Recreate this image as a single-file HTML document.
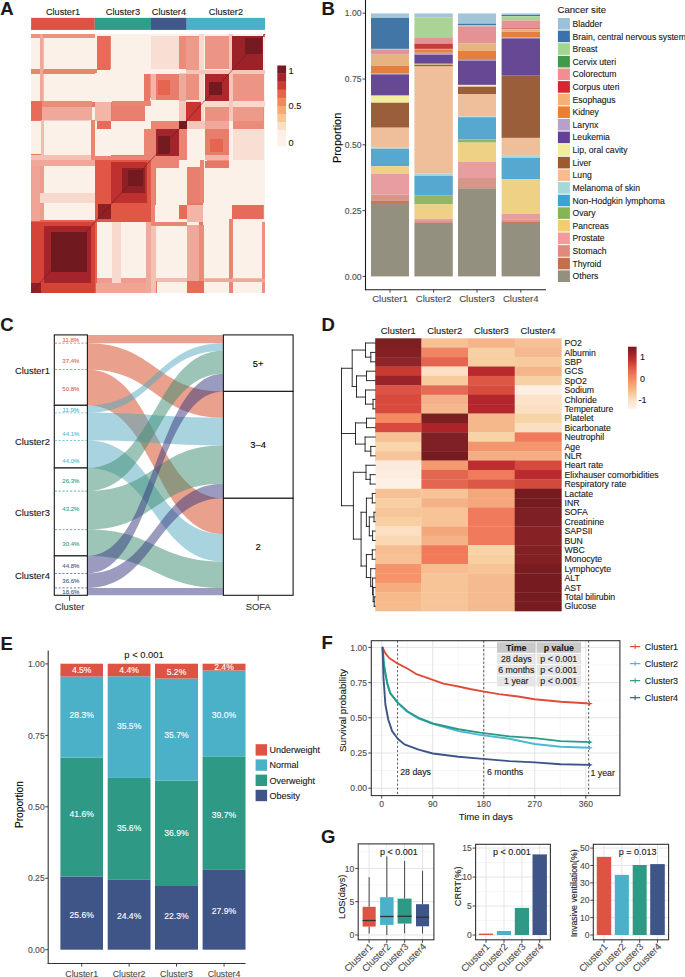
<!DOCTYPE html>
<html><head><meta charset="utf-8"><style>
html,body{margin:0;padding:0;background:#fff;width:685px;height:977px;overflow:hidden}
svg{display:block;font-family:"Liberation Sans", sans-serif}
text{stroke:currentColor;stroke-width:0.12px}
</style></head><body>
<svg width="685" height="977" viewBox="0 0 685 977">
<rect x="0" y="0" width="685" height="977" fill="#fff"/>
<text x="0.30" y="14.60" font-size="18.5" text-anchor="start" fill="#1a1a1a" style="color:#1a1a1a" font-weight="bold" >A</text>

<text x="321.50" y="14.90" font-size="18.5" text-anchor="start" fill="#1a1a1a" style="color:#1a1a1a" font-weight="bold" >B</text>

<text x="0.20" y="331.00" font-size="18.5" text-anchor="start" fill="#1a1a1a" style="color:#1a1a1a" font-weight="bold" >C</text>

<text x="321.50" y="330.60" font-size="18.5" text-anchor="start" fill="#1a1a1a" style="color:#1a1a1a" font-weight="bold" >D</text>

<text x="0.50" y="649.90" font-size="18.5" text-anchor="start" fill="#1a1a1a" style="color:#1a1a1a" font-weight="bold" >E</text>

<text x="321.50" y="648.60" font-size="18.5" text-anchor="start" fill="#1a1a1a" style="color:#1a1a1a" font-weight="bold" >F</text>

<text x="321.00" y="842.50" font-size="18.5" text-anchor="start" fill="#1a1a1a" style="color:#1a1a1a" font-weight="bold" >G</text>

<g shape-rendering="crispEdges"><rect x="31.00" y="34.00" width="234.00" height="258.60" fill="#fcf1e8"/><rect x="31.00" y="34.00" width="61.20" height="2.90" fill="#ec9080"/><rect x="262.38" y="224.97" width="2.62" height="67.63" fill="#ec9080"/><rect x="31.00" y="68.90" width="66.40" height="4.40" fill="#ea8473"/><rect x="229.44" y="219.22" width="3.98" height="73.38" fill="#ea8473"/><rect x="31.00" y="102.20" width="66.40" height="4.40" fill="#e87866"/><rect x="199.31" y="219.22" width="3.98" height="73.38" fill="#e87866"/><rect x="31.00" y="102.20" width="9.50" height="4.40" fill="#db4e40"/><rect x="199.31" y="282.10" width="3.98" height="10.50" fill="#db4e40"/><rect x="31.00" y="106.60" width="9.50" height="14.00" fill="#e87866"/><rect x="186.64" y="282.10" width="12.67" height="10.50" fill="#e87866"/><rect x="44.00" y="106.60" width="45.60" height="14.00" fill="#f6cabe"/><rect x="186.64" y="227.84" width="12.67" height="50.39" fill="#f6cabe"/><rect x="40.50" y="34.00" width="3.50" height="188.00" fill="#f3bcaf"/><rect x="94.88" y="278.23" width="170.12" height="3.87" fill="#f3bcaf"/><rect x="97.40" y="35.60" width="13.20" height="33.30" fill="#ea8473"/><rect x="233.42" y="204.63" width="30.13" height="14.59" fill="#ea8473"/><rect x="95.30" y="102.20" width="15.30" height="18.40" fill="#f2b5a7"/><rect x="186.64" y="204.63" width="16.65" height="16.91" fill="#f2b5a7"/><rect x="110.60" y="102.20" width="34.20" height="18.40" fill="#e87866"/><rect x="186.64" y="166.84" width="16.65" height="37.80" fill="#e87866"/><rect x="122.00" y="104.00" width="22.80" height="15.00" fill="#e66c59"/><rect x="188.09" y="166.84" width="13.57" height="25.20" fill="#e66c59"/><rect x="144.80" y="74.20" width="6.20" height="23.60" fill="#ec9080"/><rect x="207.27" y="159.98" width="21.35" height="6.85" fill="#ec9080"/><rect x="97.40" y="120.60" width="13.20" height="8.80" fill="#e66c59"/><rect x="178.68" y="204.63" width="7.96" height="14.59" fill="#e66c59"/><rect x="144.80" y="129.40" width="6.20" height="30.60" fill="#ee9c8d"/><rect x="150.99" y="159.98" width="27.69" height="6.85" fill="#ee9c8d"/><rect x="31.00" y="153.90" width="10.40" height="6.10" fill="#e87866"/><rect x="150.99" y="281.11" width="5.52" height="11.49" fill="#e87866"/><rect x="110.60" y="155.00" width="40.40" height="5.00" fill="#e87866"/><rect x="150.99" y="159.98" width="4.52" height="44.65" fill="#e87866"/><rect x="151.00" y="35.60" width="28.20" height="33.60" fill="#f9ded3"/><rect x="233.15" y="128.82" width="30.40" height="31.16" fill="#f9ded3"/><rect x="155.80" y="73.50" width="23.20" height="26.70" fill="#e97d6b"/><rect x="205.10" y="129.04" width="24.16" height="25.64" fill="#e97d6b"/><rect x="158.30" y="80.00" width="12.10" height="15.00" fill="#e56551"/><rect x="209.80" y="138.55" width="13.57" height="13.37" fill="#e56551"/><rect x="179.20" y="35.60" width="21.80" height="33.60" fill="#eb8c7b"/><rect x="233.15" y="104.73" width="30.40" height="24.09" fill="#eb8c7b"/><rect x="151.00" y="73.50" width="4.80" height="26.70" fill="#f2b5a7"/><rect x="205.10" y="154.68" width="24.16" height="5.30" fill="#f2b5a7"/><rect x="179.20" y="73.30" width="7.10" height="47.20" fill="#f5c6b9"/><rect x="186.73" y="120.97" width="42.71" height="7.85" fill="#f5c6b9"/><rect x="204.80" y="35.60" width="24.20" height="33.60" fill="#ed9585"/><rect x="233.15" y="73.78" width="30.40" height="26.74" fill="#ed9585"/><rect x="186.30" y="73.50" width="12.80" height="26.70" fill="#ec9080"/><rect x="205.10" y="106.83" width="24.16" height="14.15" fill="#ec9080"/><rect x="232.40" y="101.90" width="30.20" height="18.90" fill="#ee9a8a"/><rect x="186.46" y="36.65" width="17.10" height="33.37" fill="#ee9a8a"/><rect x="204.80" y="120.80" width="24.20" height="8.20" fill="#f0a89a"/><rect x="179.04" y="73.78" width="7.42" height="26.74" fill="#f0a89a"/><rect x="186.80" y="225.40" width="17.20" height="55.20" fill="#f0a89a"/><rect x="41.86" y="101.41" width="49.95" height="19.01" fill="#f0a89a"/><rect x="199.00" y="225.40" width="5.00" height="55.20" fill="#eb8c7b"/><rect x="41.86" y="101.41" width="49.95" height="5.53" fill="#eb8c7b"/><rect x="186.80" y="280.60" width="17.20" height="12.00" fill="#e66c59"/><rect x="31.00" y="101.41" width="10.86" height="19.01" fill="#e66c59"/><rect x="229.00" y="222.00" width="3.40" height="70.60" fill="#ea8473"/><rect x="31.00" y="70.03" width="63.88" height="3.76" fill="#ea8473"/><rect x="261.70" y="222.00" width="3.30" height="70.60" fill="#ec9080"/><rect x="31.00" y="34.00" width="63.88" height="3.65" fill="#ec9080"/><rect x="150.60" y="222.00" width="5.20" height="70.60" fill="#f4c1b4"/><rect x="31.00" y="154.68" width="63.88" height="5.75" fill="#f4c1b4"/><rect x="204.80" y="278.80" width="60.20" height="3.50" fill="#f0a89a"/><rect x="40.32" y="34.00" width="3.17" height="66.53" fill="#f0a89a"/><rect x="151.00" y="160.00" width="4.00" height="62.00" fill="#ea8473"/><rect x="94.88" y="155.56" width="56.10" height="4.42" fill="#ea8473"/><rect x="154.90" y="160.00" width="24.10" height="7.80" fill="#ea8473"/><rect x="143.93" y="129.04" width="7.06" height="26.63" fill="#ea8473"/><rect x="186.80" y="166.90" width="12.90" height="36.10" fill="#e97f6e"/><rect x="112.08" y="106.16" width="32.67" height="14.26" fill="#e97f6e"/><rect x="199.70" y="160.00" width="4.30" height="43.00" fill="#ea8473"/><rect x="112.08" y="101.41" width="38.91" height="4.75" fill="#ea8473"/><rect x="204.80" y="160.90" width="24.20" height="6.90" fill="#e87866"/><rect x="143.93" y="73.78" width="6.24" height="26.74" fill="#e87866"/><rect x="232.40" y="204.80" width="31.00" height="14.60" fill="#e66c59"/><rect x="97.24" y="35.77" width="13.21" height="34.26" fill="#e66c59"/><rect x="148.00" y="222.00" width="38.80" height="4.30" fill="#ea8473"/><rect x="90.99" y="120.42" width="3.89" height="42.88" fill="#ea8473"/><rect x="31.00" y="160.00" width="13.00" height="62.00" fill="#ee9c8d"/><rect x="94.88" y="278.23" width="56.10" height="14.37" fill="#ee9c8d"/><rect x="44.00" y="195.00" width="47.30" height="7.00" fill="#f4c1b4"/><rect x="112.98" y="225.96" width="6.33" height="52.27" fill="#f4c1b4"/><rect x="31.00" y="219.60" width="63.80" height="3.40" fill="#e7634f"/><rect x="93.98" y="222.09" width="3.08" height="70.51" fill="#e7634f"/><rect x="112.00" y="222.00" width="9.00" height="70.60" fill="#f8d9ce"/><rect x="31.00" y="193.14" width="63.88" height="9.95" fill="#f8d9ce"/><rect x="95.70" y="282.60" width="49.90" height="10.00" fill="#efa495"/><rect x="31.00" y="165.95" width="9.05" height="55.15" fill="#efa495"/><rect x="145.60" y="222.00" width="5.40" height="70.60" fill="#f0a89a"/><rect x="31.00" y="159.98" width="63.88" height="5.97" fill="#f0a89a"/><rect x="199.10" y="34.00" width="4.90" height="86.50" fill="#f8d9ce"/><rect x="186.73" y="101.41" width="78.27" height="5.42" fill="#f8d9ce"/><rect x="186.30" y="69.70" width="78.70" height="4.10" fill="#f5c6b9"/><rect x="228.99" y="34.00" width="3.71" height="86.97" fill="#f5c6b9"/><rect x="31.00" y="222.00" width="63.80" height="70.60" fill="#d44238"/><rect x="44.00" y="225.70" width="47.30" height="56.90" fill="#a5242b"/><rect x="51.00" y="231.80" width="35.90" height="40.30" fill="#701a20"/><rect x="31.00" y="282.60" width="10.40" height="10.00" fill="#8e2026"/><rect x="94.80" y="160.00" width="56.20" height="62.00" fill="#e05746"/><rect x="111.00" y="161.80" width="36.00" height="41.20" fill="#be312f"/><rect x="122.40" y="167.70" width="22.80" height="25.40" fill="#8e2026"/><rect x="127.60" y="170.00" width="14.90" height="16.00" fill="#721a20"/><rect x="97.90" y="203.60" width="13.10" height="15.80" fill="#8e2026"/><rect x="151.00" y="120.50" width="35.70" height="39.50" fill="#ea8473"/><rect x="155.70" y="129.20" width="23.60" height="26.80" fill="#a5242b"/><rect x="158.30" y="136.30" width="12.10" height="17.20" fill="#741b21"/><rect x="179.30" y="120.50" width="7.40" height="8.00" fill="#741b21"/><rect x="186.30" y="102.40" width="14.70" height="18.40" fill="#c73631"/><rect x="204.80" y="73.50" width="24.20" height="27.00" fill="#ad282c"/><rect x="209.30" y="81.50" width="12.80" height="13.20" fill="#721a20"/><rect x="232.40" y="35.60" width="30.20" height="34.40" fill="#9c2229"/><rect x="244.50" y="38.20" width="17.20" height="15.40" fill="#741b21"/><rect x="262.60" y="34.00" width="2.40" height="2.50" fill="#e7634f"/></g><line x1="31.0" y1="292.6" x2="265.0" y2="34.0" stroke="#6e1a1f" stroke-width="0.8" stroke-opacity="0.7"/>
<rect x="31.10" y="17.85" width="63.70" height="12.05" fill="#dd5244" />
<rect x="94.80" y="17.85" width="56.20" height="12.05" fill="#2e9d89" />
<rect x="151.00" y="17.85" width="35.70" height="12.05" fill="#3f5789" />
<rect x="186.70" y="17.85" width="78.30" height="12.05" fill="#49b1c7" />
<text x="63.00" y="14.90" font-size="9.2" text-anchor="middle" fill="#1a1a1a" style="color:#1a1a1a" font-weight="normal" >Cluster1</text>
<text x="122.90" y="14.90" font-size="9.2" text-anchor="middle" fill="#1a1a1a" style="color:#1a1a1a" font-weight="normal" >Cluster3</text>
<text x="168.90" y="14.90" font-size="9.2" text-anchor="middle" fill="#1a1a1a" style="color:#1a1a1a" font-weight="normal" >Cluster4</text>
<text x="225.90" y="14.90" font-size="9.2" text-anchor="middle" fill="#1a1a1a" style="color:#1a1a1a" font-weight="normal" >Cluster2</text>
<rect x="277.30" y="65.50" width="8.80" height="8.28" fill="#761b21" />
<rect x="277.30" y="73.58" width="8.80" height="8.28" fill="#a5242b" />
<rect x="277.30" y="81.66" width="8.80" height="8.28" fill="#cf3a32" />
<rect x="277.30" y="89.74" width="8.80" height="8.28" fill="#e7634f" />
<rect x="277.30" y="97.82" width="8.80" height="8.28" fill="#f3865f" />
<rect x="277.30" y="105.90" width="8.80" height="8.28" fill="#f6a878" />
<rect x="277.30" y="113.98" width="8.80" height="8.28" fill="#f5c898" />
<rect x="277.30" y="122.06" width="8.80" height="8.28" fill="#f9dfc3" />
<rect x="277.30" y="130.14" width="8.80" height="8.28" fill="#fdefe5" />
<rect x="277.30" y="138.22" width="8.80" height="8.28" fill="#fdf0e6" />
<text x="288.60" y="74.11" font-size="9.2" text-anchor="start" fill="#1a1a1a" style="color:#1a1a1a" font-weight="normal" >1</text>
<text x="288.60" y="109.31" font-size="9.2" text-anchor="start" fill="#1a1a1a" style="color:#1a1a1a" font-weight="normal" >0.5</text>
<text x="288.60" y="146.21" font-size="9.2" text-anchor="start" fill="#1a1a1a" style="color:#1a1a1a" font-weight="normal" >0</text>
<rect x="371.00" y="13.40" width="38.00" height="4.50" fill="#a2c5da" />
<rect x="371.00" y="17.90" width="38.00" height="31.00" fill="#4176a6" />
<rect x="371.00" y="48.90" width="38.00" height="1.00" fill="#abd396" />
<rect x="371.00" y="49.90" width="38.00" height="4.80" fill="#e39394" />
<rect x="371.00" y="54.70" width="38.00" height="11.00" fill="#e7b47f" />
<rect x="371.00" y="65.70" width="38.00" height="7.90" fill="#e4803f" />
<rect x="371.00" y="73.60" width="38.00" height="0.80" fill="#b2a2cb" />
<rect x="371.00" y="74.40" width="38.00" height="21.20" fill="#664894" />
<rect x="371.00" y="95.60" width="38.00" height="7.10" fill="#f2ee9e" />
<rect x="371.00" y="102.70" width="38.00" height="25.00" fill="#9b5e3b" />
<rect x="371.00" y="127.70" width="38.00" height="19.70" fill="#eebf9a" />
<rect x="371.00" y="147.40" width="38.00" height="1.50" fill="#a8d6d8" />
<rect x="371.00" y="148.90" width="38.00" height="17.40" fill="#56a8d1" />
<rect x="371.00" y="166.30" width="38.00" height="7.30" fill="#eed185" />
<rect x="371.00" y="173.60" width="38.00" height="21.00" fill="#e89ea0" />
<rect x="371.00" y="194.60" width="38.00" height="6.30" fill="#d8958a" />
<rect x="371.00" y="200.90" width="38.00" height="2.10" fill="#c27a55" />
<rect x="371.00" y="203.00" width="38.00" height="73.40" fill="#939080" />
<rect x="414.40" y="13.40" width="38.40" height="4.00" fill="#a2c5da" />
<rect x="414.40" y="17.40" width="38.40" height="19.90" fill="#abd396" />
<rect x="414.40" y="37.30" width="38.40" height="6.30" fill="#e39394" />
<rect x="414.40" y="43.60" width="38.40" height="5.30" fill="#c93a3a" />
<rect x="414.40" y="48.90" width="38.40" height="0.50" fill="#e7b47f" />
<rect x="414.40" y="49.40" width="38.40" height="3.40" fill="#e4803f" />
<rect x="414.40" y="52.80" width="38.40" height="1.90" fill="#b2a2cb" />
<rect x="414.40" y="54.70" width="38.40" height="9.10" fill="#664894" />
<rect x="414.40" y="63.80" width="38.40" height="0.80" fill="#f2ee9e" />
<rect x="414.40" y="64.60" width="38.40" height="1.90" fill="#9b5e3b" />
<rect x="414.40" y="66.50" width="38.40" height="107.10" fill="#eebf9a" />
<rect x="414.40" y="173.60" width="38.40" height="2.40" fill="#a8d6d8" />
<rect x="414.40" y="176.00" width="38.40" height="19.20" fill="#56a8d1" />
<rect x="414.40" y="195.20" width="38.40" height="9.20" fill="#95b466" />
<rect x="414.40" y="204.40" width="38.40" height="14.40" fill="#eed185" />
<rect x="414.40" y="218.80" width="38.40" height="2.20" fill="#e89ea0" />
<rect x="414.40" y="221.00" width="38.40" height="2.00" fill="#d8958a" />
<rect x="414.40" y="223.00" width="38.40" height="53.40" fill="#939080" />
<rect x="458.00" y="13.40" width="38.00" height="10.30" fill="#a2c5da" />
<rect x="458.00" y="23.70" width="38.00" height="1.30" fill="#4176a6" />
<rect x="458.00" y="25.00" width="38.00" height="1.30" fill="#abd396" />
<rect x="458.00" y="26.30" width="38.00" height="17.30" fill="#e39394" />
<rect x="458.00" y="43.60" width="38.00" height="7.10" fill="#e7b47f" />
<rect x="458.00" y="50.70" width="38.00" height="9.20" fill="#e4803f" />
<rect x="458.00" y="59.90" width="38.00" height="0.80" fill="#b2a2cb" />
<rect x="458.00" y="60.70" width="38.00" height="24.20" fill="#664894" />
<rect x="458.00" y="84.90" width="38.00" height="1.80" fill="#f2ee9e" />
<rect x="458.00" y="86.70" width="38.00" height="7.30" fill="#9b5e3b" />
<rect x="458.00" y="94.00" width="38.00" height="22.40" fill="#eebf9a" />
<rect x="458.00" y="116.40" width="38.00" height="0.80" fill="#a8d6d8" />
<rect x="458.00" y="117.20" width="38.00" height="22.30" fill="#56a8d1" />
<rect x="458.00" y="139.50" width="38.00" height="3.10" fill="#95b466" />
<rect x="458.00" y="142.60" width="38.00" height="19.40" fill="#eed185" />
<rect x="458.00" y="162.00" width="38.00" height="16.00" fill="#e89ea0" />
<rect x="458.00" y="178.00" width="38.00" height="9.30" fill="#d8958a" />
<rect x="458.00" y="187.30" width="38.00" height="1.30" fill="#c27a55" />
<rect x="458.00" y="188.60" width="38.00" height="87.80" fill="#939080" />
<rect x="501.60" y="13.40" width="38.40" height="1.60" fill="#a2c5da" />
<rect x="501.60" y="15.00" width="38.40" height="1.30" fill="#4176a6" />
<rect x="501.60" y="16.30" width="38.40" height="4.20" fill="#abd396" />
<rect x="501.60" y="20.50" width="38.40" height="7.90" fill="#e39394" />
<rect x="501.60" y="28.40" width="38.40" height="0.80" fill="#c93a3a" />
<rect x="501.60" y="29.20" width="38.40" height="2.60" fill="#e7b47f" />
<rect x="501.60" y="31.80" width="38.40" height="5.50" fill="#e4803f" />
<rect x="501.60" y="37.30" width="38.40" height="1.10" fill="#b2a2cb" />
<rect x="501.60" y="38.40" width="38.40" height="37.30" fill="#664894" />
<rect x="501.60" y="75.70" width="38.40" height="62.20" fill="#9b5e3b" />
<rect x="501.60" y="137.90" width="38.40" height="17.30" fill="#eebf9a" />
<rect x="501.60" y="155.20" width="38.40" height="2.70" fill="#a8d6d8" />
<rect x="501.60" y="157.90" width="38.40" height="21.50" fill="#56a8d1" />
<rect x="501.60" y="179.40" width="38.40" height="34.60" fill="#eed185" />
<rect x="501.60" y="214.00" width="38.40" height="5.30" fill="#e89ea0" />
<rect x="501.60" y="219.30" width="38.40" height="2.10" fill="#d8958a" />
<rect x="501.60" y="221.40" width="38.40" height="1.60" fill="#c27a55" />
<rect x="501.60" y="223.00" width="38.40" height="53.40" fill="#939080" />
<line x1="365.50" y1="0.00" x2="365.50" y2="290.20" stroke="#1a1a1a" stroke-width="1.1" />
<line x1="365.00" y1="289.70" x2="546.00" y2="289.70" stroke="#1a1a1a" stroke-width="1.1" />
<line x1="362.50" y1="13.20" x2="365.50" y2="13.20" stroke="#333" stroke-width="0.9" />
<text x="361.50" y="16.30" font-size="8.6" text-anchor="end" fill="#4d4d4d" style="color:#4d4d4d" font-weight="normal" >1.00</text>
<line x1="362.50" y1="79.00" x2="365.50" y2="79.00" stroke="#333" stroke-width="0.9" />
<text x="361.50" y="82.10" font-size="8.6" text-anchor="end" fill="#4d4d4d" style="color:#4d4d4d" font-weight="normal" >0.75</text>
<line x1="362.50" y1="144.80" x2="365.50" y2="144.80" stroke="#333" stroke-width="0.9" />
<text x="361.50" y="147.90" font-size="8.6" text-anchor="end" fill="#4d4d4d" style="color:#4d4d4d" font-weight="normal" >0.50</text>
<line x1="362.50" y1="210.60" x2="365.50" y2="210.60" stroke="#333" stroke-width="0.9" />
<text x="361.50" y="213.70" font-size="8.6" text-anchor="end" fill="#4d4d4d" style="color:#4d4d4d" font-weight="normal" >0.25</text>
<line x1="362.50" y1="276.40" x2="365.50" y2="276.40" stroke="#333" stroke-width="0.9" />
<text x="361.50" y="279.50" font-size="8.6" text-anchor="end" fill="#4d4d4d" style="color:#4d4d4d" font-weight="normal" >0.00</text>
<line x1="390.00" y1="289.70" x2="390.00" y2="292.70" stroke="#333" stroke-width="0.9" />
<text x="390.00" y="301.66" font-size="9.6" text-anchor="middle" fill="#4d4d4d" style="color:#4d4d4d" font-weight="normal" >Cluster1</text>
<line x1="433.60" y1="289.70" x2="433.60" y2="292.70" stroke="#333" stroke-width="0.9" />
<text x="433.60" y="301.66" font-size="9.6" text-anchor="middle" fill="#4d4d4d" style="color:#4d4d4d" font-weight="normal" >Cluster2</text>
<line x1="477.00" y1="289.70" x2="477.00" y2="292.70" stroke="#333" stroke-width="0.9" />
<text x="477.00" y="301.66" font-size="9.6" text-anchor="middle" fill="#4d4d4d" style="color:#4d4d4d" font-weight="normal" >Cluster3</text>
<line x1="520.80" y1="289.70" x2="520.80" y2="292.70" stroke="#333" stroke-width="0.9" />
<text x="520.80" y="301.66" font-size="9.6" text-anchor="middle" fill="#4d4d4d" style="color:#4d4d4d" font-weight="normal" >Cluster4</text>
<text x="336.80" y="141.82" font-size="10.9" text-anchor="middle" fill="#000" style="color:#000" font-weight="normal" transform="rotate(-90 336.8 137.9)">Proportion</text>
<text x="557.50" y="12.66" font-size="9.6" text-anchor="start" fill="#1a1a1a" style="color:#1a1a1a" font-weight="normal" >Cancer site</text>
<rect x="557.90" y="18.00" width="12.00" height="11.60" fill="#9ac3d9" />
<text x="572.60" y="26.90" font-size="8.6" text-anchor="start" fill="#1a1a1a" style="color:#1a1a1a" font-weight="normal" >Bladder</text>
<rect x="557.90" y="30.62" width="12.00" height="11.60" fill="#3a73ab" />
<text x="572.60" y="39.52" font-size="8.6" text-anchor="start" fill="#1a1a1a" style="color:#1a1a1a" font-weight="normal" >Brain, central nervous system</text>
<rect x="557.90" y="43.24" width="12.00" height="11.60" fill="#a3d590" />
<text x="572.60" y="52.14" font-size="8.6" text-anchor="start" fill="#1a1a1a" style="color:#1a1a1a" font-weight="normal" >Breast</text>
<rect x="557.90" y="55.86" width="12.00" height="11.60" fill="#43994a" />
<text x="572.60" y="64.76" font-size="8.6" text-anchor="start" fill="#1a1a1a" style="color:#1a1a1a" font-weight="normal" >Cervix uteri</text>
<rect x="557.90" y="68.48" width="12.00" height="11.60" fill="#f28e93" />
<text x="572.60" y="77.38" font-size="8.6" text-anchor="start" fill="#1a1a1a" style="color:#1a1a1a" font-weight="normal" >Colorectum</text>
<rect x="557.90" y="81.10" width="12.00" height="11.60" fill="#d6282c" />
<text x="572.60" y="90.00" font-size="8.6" text-anchor="start" fill="#1a1a1a" style="color:#1a1a1a" font-weight="normal" >Corpus uteri</text>
<rect x="557.90" y="93.72" width="12.00" height="11.60" fill="#f4b173" />
<text x="572.60" y="102.62" font-size="8.6" text-anchor="start" fill="#1a1a1a" style="color:#1a1a1a" font-weight="normal" >Esophagus</text>
<rect x="557.90" y="106.34" width="12.00" height="11.60" fill="#f07d2e" />
<text x="572.60" y="115.24" font-size="8.6" text-anchor="start" fill="#1a1a1a" style="color:#1a1a1a" font-weight="normal" >Kidney</text>
<rect x="557.90" y="118.96" width="12.00" height="11.60" fill="#b8a0cc" />
<text x="572.60" y="127.86" font-size="8.6" text-anchor="start" fill="#1a1a1a" style="color:#1a1a1a" font-weight="normal" >Larynx</text>
<rect x="557.90" y="131.58" width="12.00" height="11.60" fill="#643f98" />
<text x="572.60" y="140.48" font-size="8.6" text-anchor="start" fill="#1a1a1a" style="color:#1a1a1a" font-weight="normal" >Leukemia</text>
<rect x="557.90" y="144.20" width="12.00" height="11.60" fill="#f0ec9c" />
<text x="572.60" y="153.10" font-size="8.6" text-anchor="start" fill="#1a1a1a" style="color:#1a1a1a" font-weight="normal" >Lip, oral cavity</text>
<rect x="557.90" y="156.82" width="12.00" height="11.60" fill="#a0582f" />
<text x="572.60" y="165.72" font-size="8.6" text-anchor="start" fill="#1a1a1a" style="color:#1a1a1a" font-weight="normal" >Liver</text>
<rect x="557.90" y="169.44" width="12.00" height="11.60" fill="#f9bb8d" />
<text x="572.60" y="178.34" font-size="8.6" text-anchor="start" fill="#1a1a1a" style="color:#1a1a1a" font-weight="normal" >Lung</text>
<rect x="557.90" y="182.06" width="12.00" height="11.60" fill="#a5d8d9" />
<text x="572.60" y="190.96" font-size="8.6" text-anchor="start" fill="#1a1a1a" style="color:#1a1a1a" font-weight="normal" >Melanoma of skin</text>
<rect x="557.90" y="194.68" width="12.00" height="11.60" fill="#36a5d6" />
<text x="572.60" y="203.58" font-size="8.6" text-anchor="start" fill="#1a1a1a" style="color:#1a1a1a" font-weight="normal" >Non-Hodgkin lymphoma</text>
<rect x="557.90" y="207.30" width="12.00" height="11.60" fill="#86b556" />
<text x="572.60" y="216.20" font-size="8.6" text-anchor="start" fill="#1a1a1a" style="color:#1a1a1a" font-weight="normal" >Ovary</text>
<rect x="557.90" y="219.92" width="12.00" height="11.60" fill="#f2cd70" />
<text x="572.60" y="228.82" font-size="8.6" text-anchor="start" fill="#1a1a1a" style="color:#1a1a1a" font-weight="normal" >Pancreas</text>
<rect x="557.90" y="232.54" width="12.00" height="11.60" fill="#f4999c" />
<text x="572.60" y="241.44" font-size="8.6" text-anchor="start" fill="#1a1a1a" style="color:#1a1a1a" font-weight="normal" >Prostate</text>
<rect x="557.90" y="245.16" width="12.00" height="11.60" fill="#df8a7c" />
<text x="572.60" y="254.06" font-size="8.6" text-anchor="start" fill="#1a1a1a" style="color:#1a1a1a" font-weight="normal" >Stomach</text>
<rect x="557.90" y="257.78" width="12.00" height="11.60" fill="#c37049" />
<text x="572.60" y="266.68" font-size="8.6" text-anchor="start" fill="#1a1a1a" style="color:#1a1a1a" font-weight="normal" >Thyroid</text>
<rect x="557.90" y="270.40" width="12.00" height="11.60" fill="#93917e" />
<text x="572.60" y="279.30" font-size="8.6" text-anchor="start" fill="#1a1a1a" style="color:#1a1a1a" font-weight="normal" >Others</text>
<path d="M87.4,334.90 C155.40,334.90 155.40,334.90 223.4,334.90 L223.4,343.20 C155.40,343.20 155.40,343.20 87.4,343.20 Z" fill="#d34119" fill-opacity="0.5"/>
<path d="M87.4,343.20 C155.40,343.20 155.40,391.40 223.4,391.40 L223.4,417.70 C155.40,417.70 155.40,369.50 87.4,369.50 Z" fill="#d34119" fill-opacity="0.5"/>
<path d="M87.4,369.50 C155.40,369.50 155.40,498.30 223.4,498.30 L223.4,534.10 C155.40,534.10 155.40,405.30 87.4,405.30 Z" fill="#d34119" fill-opacity="0.5"/>
<path d="M87.4,405.30 C155.40,405.30 155.40,343.20 223.4,343.20 L223.4,350.75 C155.40,350.75 155.40,412.85 87.4,412.85 Z" fill="#51a7bf" fill-opacity="0.5"/>
<path d="M87.4,412.85 C155.40,412.85 155.40,417.70 223.4,417.70 L223.4,445.35 C155.40,445.35 155.40,440.50 87.4,440.50 Z" fill="#51a7bf" fill-opacity="0.5"/>
<path d="M87.4,440.50 C155.40,440.50 155.40,534.10 223.4,534.10 L223.4,561.60 C155.40,561.60 155.40,468.00 87.4,468.00 Z" fill="#51a7bf" fill-opacity="0.5"/>
<path d="M87.4,468.00 C155.40,468.00 155.40,350.75 223.4,350.75 L223.4,373.85 C155.40,373.85 155.40,491.10 87.4,491.10 Z" fill="#398b6f" fill-opacity="0.5"/>
<path d="M87.4,491.10 C155.40,491.10 155.40,445.35 223.4,445.35 L223.4,483.85 C155.40,483.85 155.40,529.60 87.4,529.60 Z" fill="#398b6f" fill-opacity="0.5"/>
<path d="M87.4,529.60 C155.40,529.60 155.40,561.60 223.4,561.60 L223.4,587.90 C155.40,587.90 155.40,555.90 87.4,555.90 Z" fill="#398b6f" fill-opacity="0.5"/>
<path d="M87.4,555.90 C155.40,555.90 155.40,373.85 223.4,373.85 L223.4,391.40 C155.40,391.40 155.40,573.45 87.4,573.45 Z" fill="#35377d" fill-opacity="0.5"/>
<path d="M87.4,573.45 C155.40,573.45 155.40,483.85 223.4,483.85 L223.4,498.30 C155.40,498.30 155.40,587.90 87.4,587.90 Z" fill="#35377d" fill-opacity="0.5"/>
<path d="M87.4,587.90 C155.40,587.90 155.40,587.90 223.4,587.90 L223.4,595.30 C155.40,595.30 155.40,595.30 87.4,595.30 Z" fill="#35377d" fill-opacity="0.5"/>
<rect x="54.30" y="334.90" width="33.10" height="70.40" fill="#fff" stroke="#1a1a1a" stroke-width="1.1"/>
<line x1="54.80" y1="343.20" x2="87.00" y2="343.20" stroke="#e06c5c" stroke-width="0.8" stroke-dasharray="2.2,1.6"/>
<line x1="54.80" y1="369.50" x2="87.00" y2="369.50" stroke="#e06c5c" stroke-width="0.8" stroke-dasharray="2.2,1.6"/>
<rect x="54.30" y="405.30" width="33.10" height="62.70" fill="#fff" stroke="#1a1a1a" stroke-width="1.1"/>
<line x1="54.80" y1="412.85" x2="87.00" y2="412.85" stroke="#5bbcd3" stroke-width="0.8" stroke-dasharray="2.2,1.6"/>
<line x1="54.80" y1="440.50" x2="87.00" y2="440.50" stroke="#5bbcd3" stroke-width="0.8" stroke-dasharray="2.2,1.6"/>
<rect x="54.30" y="468.00" width="33.10" height="87.90" fill="#fff" stroke="#1a1a1a" stroke-width="1.1"/>
<line x1="54.80" y1="491.10" x2="87.00" y2="491.10" stroke="#3fa48f" stroke-width="0.8" stroke-dasharray="2.2,1.6"/>
<line x1="54.80" y1="529.60" x2="87.00" y2="529.60" stroke="#3fa48f" stroke-width="0.8" stroke-dasharray="2.2,1.6"/>
<rect x="54.30" y="555.90" width="33.10" height="39.40" fill="#fff" stroke="#1a1a1a" stroke-width="1.1"/>
<line x1="54.80" y1="573.45" x2="87.00" y2="573.45" stroke="#4d5f91" stroke-width="0.8" stroke-dasharray="2.2,1.6"/>
<line x1="54.80" y1="587.90" x2="87.00" y2="587.90" stroke="#4d5f91" stroke-width="0.8" stroke-dasharray="2.2,1.6"/>
<text x="70.85" y="342.06" font-size="6.0" text-anchor="middle" fill="#e06c5c" style="color:#e06c5c" font-weight="normal" >11.8%</text>
<text x="70.85" y="362.96" font-size="6.0" text-anchor="middle" fill="#e06c5c" style="color:#e06c5c" font-weight="normal" >37.4%</text>
<text x="70.85" y="391.36" font-size="6.0" text-anchor="middle" fill="#e06c5c" style="color:#e06c5c" font-weight="normal" >50.8%</text>
<text x="70.85" y="412.36" font-size="6.0" text-anchor="middle" fill="#5bbcd3" style="color:#5bbcd3" font-weight="normal" >11.9%</text>
<text x="70.85" y="436.06" font-size="6.0" text-anchor="middle" fill="#5bbcd3" style="color:#5bbcd3" font-weight="normal" >44.1%</text>
<text x="70.85" y="463.46" font-size="6.0" text-anchor="middle" fill="#5bbcd3" style="color:#5bbcd3" font-weight="normal" >44.0%</text>
<text x="70.85" y="483.16" font-size="6.0" text-anchor="middle" fill="#3fa48f" style="color:#3fa48f" font-weight="normal" >26.3%</text>
<text x="70.85" y="511.16" font-size="6.0" text-anchor="middle" fill="#3fa48f" style="color:#3fa48f" font-weight="normal" >43.2%</text>
<text x="70.85" y="545.96" font-size="6.0" text-anchor="middle" fill="#3fa48f" style="color:#3fa48f" font-weight="normal" >30.4%</text>
<text x="70.85" y="567.86" font-size="6.0" text-anchor="middle" fill="#4d5f91" style="color:#4d5f91" font-weight="normal" >44.8%</text>
<text x="70.85" y="582.86" font-size="6.0" text-anchor="middle" fill="#4d5f91" style="color:#4d5f91" font-weight="normal" >36.6%</text>
<text x="70.85" y="593.86" font-size="6.0" text-anchor="middle" fill="#4d5f91" style="color:#4d5f91" font-weight="normal" >18.6%</text>
<text x="49.90" y="373.98" font-size="9.4" text-anchor="end" fill="#1a1a1a" style="color:#1a1a1a" font-weight="normal" >Cluster1</text>
<text x="49.90" y="445.38" font-size="9.4" text-anchor="end" fill="#1a1a1a" style="color:#1a1a1a" font-weight="normal" >Cluster2</text>
<text x="49.90" y="516.38" font-size="9.4" text-anchor="end" fill="#1a1a1a" style="color:#1a1a1a" font-weight="normal" >Cluster3</text>
<text x="49.90" y="578.68" font-size="9.4" text-anchor="end" fill="#1a1a1a" style="color:#1a1a1a" font-weight="normal" >Cluster4</text>
<rect x="223.40" y="334.90" width="69.70" height="56.50" fill="#fff" stroke="#1a1a1a" stroke-width="1.1"/>
<rect x="223.40" y="391.40" width="69.70" height="106.90" fill="#fff" stroke="#1a1a1a" stroke-width="1.1"/>
<rect x="223.40" y="498.30" width="69.70" height="97.00" fill="#fff" stroke="#1a1a1a" stroke-width="1.1"/>
<text x="258.20" y="367.18" font-size="9.4" text-anchor="middle" fill="#000" style="color:#000" font-weight="normal" >5+</text>
<text x="258.20" y="448.23" font-size="9.4" text-anchor="middle" fill="#000" style="color:#000" font-weight="normal" >3&#8211;4</text>
<text x="258.20" y="550.18" font-size="9.4" text-anchor="middle" fill="#000" style="color:#000" font-weight="normal" >2</text>
<line x1="69.60" y1="595.30" x2="69.60" y2="600.70" stroke="#333" stroke-width="0.9" />
<line x1="258.20" y1="595.30" x2="258.20" y2="600.70" stroke="#333" stroke-width="0.9" />
<text x="69.60" y="610.38" font-size="9.4" text-anchor="middle" fill="#333" style="color:#333" font-weight="normal" >Cluster</text>
<text x="258.20" y="610.38" font-size="9.4" text-anchor="middle" fill="#333" style="color:#333" font-weight="normal" >SOFA</text>
<rect x="375.20" y="338.30" width="46.50" height="9.70" fill="#7a1f22" />
<rect x="421.40" y="338.30" width="46.90" height="9.70" fill="#f7c095" />
<rect x="468.00" y="338.30" width="47.00" height="9.70" fill="#f5b48a" />
<rect x="514.70" y="338.30" width="47.00" height="9.70" fill="#f7c098" />
<text x="564.50" y="346.13" font-size="8.7" text-anchor="start" fill="#1a1a1a" style="color:#1a1a1a" font-weight="normal" >PO2</text>
<rect x="375.20" y="347.70" width="46.50" height="9.70" fill="#842024" />
<rect x="421.40" y="347.70" width="46.90" height="9.70" fill="#f18462" />
<rect x="468.00" y="347.70" width="47.00" height="9.70" fill="#f8d0a5" />
<rect x="514.70" y="347.70" width="47.00" height="9.70" fill="#f5b88f" />
<text x="564.50" y="355.54" font-size="8.7" text-anchor="start" fill="#1a1a1a" style="color:#1a1a1a" font-weight="normal" >Albumin</text>
<rect x="375.20" y="357.11" width="46.50" height="9.70" fill="#8c2428" />
<rect x="421.40" y="357.11" width="46.90" height="9.70" fill="#e46450" />
<rect x="468.00" y="357.11" width="47.00" height="9.70" fill="#f7cea0" />
<rect x="514.70" y="357.11" width="47.00" height="9.70" fill="#f7cb9d" />
<text x="564.50" y="364.94" font-size="8.7" text-anchor="start" fill="#1a1a1a" style="color:#1a1a1a" font-weight="normal" >SBP</text>
<rect x="375.20" y="366.51" width="46.50" height="9.70" fill="#c93a30" />
<rect x="421.40" y="366.51" width="46.90" height="9.70" fill="#fbe0c5" />
<rect x="468.00" y="366.51" width="47.00" height="9.70" fill="#b8292d" />
<rect x="514.70" y="366.51" width="47.00" height="9.70" fill="#f5b58b" />
<text x="564.50" y="374.34" font-size="8.7" text-anchor="start" fill="#1a1a1a" style="color:#1a1a1a" font-weight="normal" >GCS</text>
<rect x="375.20" y="375.91" width="46.50" height="9.70" fill="#9a2329" />
<rect x="421.40" y="375.91" width="46.90" height="9.70" fill="#f7cb9c" />
<rect x="468.00" y="375.91" width="47.00" height="9.70" fill="#dd5646" />
<rect x="514.70" y="375.91" width="47.00" height="9.70" fill="#f7d0a5" />
<text x="564.50" y="383.75" font-size="8.7" text-anchor="start" fill="#1a1a1a" style="color:#1a1a1a" font-weight="normal" >SpO2</text>
<rect x="375.20" y="385.32" width="46.50" height="9.70" fill="#dd5345" />
<rect x="421.40" y="385.32" width="46.90" height="9.70" fill="#e36a55" />
<rect x="468.00" y="385.32" width="47.00" height="9.70" fill="#d84c3e" />
<rect x="514.70" y="385.32" width="47.00" height="9.70" fill="#fdefe2" />
<text x="564.50" y="393.15" font-size="8.7" text-anchor="start" fill="#1a1a1a" style="color:#1a1a1a" font-weight="normal" >Sodium</text>
<rect x="375.20" y="394.72" width="46.50" height="9.70" fill="#d84a3e" />
<rect x="421.40" y="394.72" width="46.90" height="9.70" fill="#f5b288" />
<rect x="468.00" y="394.72" width="47.00" height="9.70" fill="#b3262d" />
<rect x="514.70" y="394.72" width="47.00" height="9.70" fill="#fbe2c8" />
<text x="564.50" y="402.55" font-size="8.7" text-anchor="start" fill="#1a1a1a" style="color:#1a1a1a" font-weight="normal" >Chloride</text>
<rect x="375.20" y="404.12" width="46.50" height="9.70" fill="#d84a3e" />
<rect x="421.40" y="404.12" width="46.90" height="9.70" fill="#f5b88c" />
<rect x="468.00" y="404.12" width="47.00" height="9.70" fill="#b3262d" />
<rect x="514.70" y="404.12" width="47.00" height="9.70" fill="#fadfc3" />
<text x="564.50" y="411.96" font-size="8.7" text-anchor="start" fill="#1a1a1a" style="color:#1a1a1a" font-weight="normal" >Temperature</text>
<rect x="375.20" y="413.53" width="46.50" height="9.70" fill="#f48a60" />
<rect x="421.40" y="413.53" width="46.90" height="9.70" fill="#7a1f22" />
<rect x="468.00" y="413.53" width="47.00" height="9.70" fill="#f5b88a" />
<rect x="514.70" y="413.53" width="47.00" height="9.70" fill="#f8d3a8" />
<text x="564.50" y="421.36" font-size="8.7" text-anchor="start" fill="#1a1a1a" style="color:#1a1a1a" font-weight="normal" >Platelet</text>
<rect x="375.20" y="422.93" width="46.50" height="9.70" fill="#d84a3e" />
<rect x="421.40" y="422.93" width="46.90" height="9.70" fill="#ad2329" />
<rect x="468.00" y="422.93" width="47.00" height="9.70" fill="#f5b88a" />
<rect x="514.70" y="422.93" width="47.00" height="9.70" fill="#fbdfc2" />
<text x="564.50" y="430.76" font-size="8.7" text-anchor="start" fill="#1a1a1a" style="color:#1a1a1a" font-weight="normal" >Bicarbonate</text>
<rect x="375.20" y="432.33" width="46.50" height="9.70" fill="#f7c095" />
<rect x="421.40" y="432.33" width="46.90" height="9.70" fill="#7e2024" />
<rect x="468.00" y="432.33" width="47.00" height="9.70" fill="#f8d3a5" />
<rect x="514.70" y="432.33" width="47.00" height="9.70" fill="#f07a5c" />
<text x="564.50" y="440.17" font-size="8.7" text-anchor="start" fill="#1a1a1a" style="color:#1a1a1a" font-weight="normal" >Neutrophil</text>
<rect x="375.20" y="441.74" width="46.50" height="9.70" fill="#f9d5ab" />
<rect x="421.40" y="441.74" width="46.90" height="9.70" fill="#7e2024" />
<rect x="468.00" y="441.74" width="47.00" height="9.70" fill="#f39670" />
<rect x="514.70" y="441.74" width="47.00" height="9.70" fill="#f39670" />
<text x="564.50" y="449.57" font-size="8.7" text-anchor="start" fill="#1a1a1a" style="color:#1a1a1a" font-weight="normal" >Age</text>
<rect x="375.20" y="451.14" width="46.50" height="9.70" fill="#f7c59a" />
<rect x="421.40" y="451.14" width="46.90" height="9.70" fill="#761c20" />
<rect x="468.00" y="451.14" width="47.00" height="9.70" fill="#f5ad84" />
<rect x="514.70" y="451.14" width="47.00" height="9.70" fill="#f5ad84" />
<text x="564.50" y="458.98" font-size="8.7" text-anchor="start" fill="#1a1a1a" style="color:#1a1a1a" font-weight="normal" >NLR</text>
<rect x="375.20" y="460.54" width="46.50" height="9.70" fill="#fcebdc" />
<rect x="421.40" y="460.54" width="46.90" height="9.70" fill="#f49a6e" />
<rect x="468.00" y="460.54" width="47.00" height="9.70" fill="#bd2c2f" />
<rect x="514.70" y="460.54" width="47.00" height="9.70" fill="#d54b3d" />
<text x="564.50" y="468.38" font-size="8.7" text-anchor="start" fill="#1a1a1a" style="color:#1a1a1a" font-weight="normal" >Heart rate</text>
<rect x="375.20" y="469.95" width="46.50" height="9.70" fill="#fcede0" />
<rect x="421.40" y="469.95" width="46.90" height="9.70" fill="#e36650" />
<rect x="468.00" y="469.95" width="47.00" height="9.70" fill="#ef7a5c" />
<rect x="514.70" y="469.95" width="47.00" height="9.70" fill="#bb2a2e" />
<text x="564.50" y="477.78" font-size="8.7" text-anchor="start" fill="#1a1a1a" style="color:#1a1a1a" font-weight="normal" >Elixhauser comorbidities</text>
<rect x="375.20" y="479.35" width="46.50" height="9.70" fill="#fdf0e4" />
<rect x="421.40" y="479.35" width="46.90" height="9.70" fill="#e36650" />
<rect x="468.00" y="479.35" width="47.00" height="9.70" fill="#dc5846" />
<rect x="514.70" y="479.35" width="47.00" height="9.70" fill="#d24a3e" />
<text x="564.50" y="487.19" font-size="8.7" text-anchor="start" fill="#1a1a1a" style="color:#1a1a1a" font-weight="normal" >Respiratory rate</text>
<rect x="375.20" y="488.76" width="46.50" height="9.70" fill="#f7c095" />
<rect x="421.40" y="488.76" width="46.90" height="9.70" fill="#f7c397" />
<rect x="468.00" y="488.76" width="47.00" height="9.70" fill="#f5a77c" />
<rect x="514.70" y="488.76" width="47.00" height="9.70" fill="#761c20" />
<text x="564.50" y="496.59" font-size="8.7" text-anchor="start" fill="#1a1a1a" style="color:#1a1a1a" font-weight="normal" >Lactate</text>
<rect x="375.20" y="498.16" width="46.50" height="9.70" fill="#f8cfa2" />
<rect x="421.40" y="498.16" width="46.90" height="9.70" fill="#f5b287" />
<rect x="468.00" y="498.16" width="47.00" height="9.70" fill="#f5a77c" />
<rect x="514.70" y="498.16" width="47.00" height="9.70" fill="#761c20" />
<text x="564.50" y="505.99" font-size="8.7" text-anchor="start" fill="#1a1a1a" style="color:#1a1a1a" font-weight="normal" >INR</text>
<rect x="375.20" y="507.56" width="46.50" height="9.70" fill="#f7c59a" />
<rect x="421.40" y="507.56" width="46.90" height="9.70" fill="#f7c397" />
<rect x="468.00" y="507.56" width="47.00" height="9.70" fill="#ef7a5c" />
<rect x="514.70" y="507.56" width="47.00" height="9.70" fill="#7e1f23" />
<text x="564.50" y="515.40" font-size="8.7" text-anchor="start" fill="#1a1a1a" style="color:#1a1a1a" font-weight="normal" >SOFA</text>
<rect x="375.20" y="516.97" width="46.50" height="9.70" fill="#f8cfa2" />
<rect x="421.40" y="516.97" width="46.90" height="9.70" fill="#f7c397" />
<rect x="468.00" y="516.97" width="47.00" height="9.70" fill="#ef7a5c" />
<rect x="514.70" y="516.97" width="47.00" height="9.70" fill="#7e1f23" />
<text x="564.50" y="524.80" font-size="8.7" text-anchor="start" fill="#1a1a1a" style="color:#1a1a1a" font-weight="normal" >Creatinine</text>
<rect x="375.20" y="526.37" width="46.50" height="9.70" fill="#fbe0c5" />
<rect x="421.40" y="526.37" width="46.90" height="9.70" fill="#f5a77c" />
<rect x="468.00" y="526.37" width="47.00" height="9.70" fill="#ef7a5c" />
<rect x="514.70" y="526.37" width="47.00" height="9.70" fill="#862226" />
<text x="564.50" y="534.20" font-size="8.7" text-anchor="start" fill="#1a1a1a" style="color:#1a1a1a" font-weight="normal" >SAPSII</text>
<rect x="375.20" y="535.77" width="46.50" height="9.70" fill="#f9d8b3" />
<rect x="421.40" y="535.77" width="46.90" height="9.70" fill="#f5b287" />
<rect x="468.00" y="535.77" width="47.00" height="9.70" fill="#ef7a5c" />
<rect x="514.70" y="535.77" width="47.00" height="9.70" fill="#862226" />
<text x="564.50" y="543.61" font-size="8.7" text-anchor="start" fill="#1a1a1a" style="color:#1a1a1a" font-weight="normal" >BUN</text>
<rect x="375.20" y="545.18" width="46.50" height="9.70" fill="#f7bc90" />
<rect x="421.40" y="545.18" width="46.90" height="9.70" fill="#f07a5a" />
<rect x="468.00" y="545.18" width="47.00" height="9.70" fill="#f8d3a6" />
<rect x="514.70" y="545.18" width="47.00" height="9.70" fill="#822024" />
<text x="564.50" y="553.01" font-size="8.7" text-anchor="start" fill="#1a1a1a" style="color:#1a1a1a" font-weight="normal" >WBC</text>
<rect x="375.20" y="554.58" width="46.50" height="9.70" fill="#f7c095" />
<rect x="421.40" y="554.58" width="46.90" height="9.70" fill="#f07a5a" />
<rect x="468.00" y="554.58" width="47.00" height="9.70" fill="#f8d0a0" />
<rect x="514.70" y="554.58" width="47.00" height="9.70" fill="#822024" />
<text x="564.50" y="562.41" font-size="8.7" text-anchor="start" fill="#1a1a1a" style="color:#1a1a1a" font-weight="normal" >Monocyte</text>
<rect x="375.20" y="563.98" width="46.50" height="9.70" fill="#f5946a" />
<rect x="421.40" y="563.98" width="46.90" height="9.70" fill="#f7bc90" />
<rect x="468.00" y="563.98" width="47.00" height="9.70" fill="#f7c498" />
<rect x="514.70" y="563.98" width="47.00" height="9.70" fill="#781c20" />
<text x="564.50" y="571.82" font-size="8.7" text-anchor="start" fill="#1a1a1a" style="color:#1a1a1a" font-weight="normal" >Lymphocyte</text>
<rect x="375.20" y="573.39" width="46.50" height="9.70" fill="#f5946a" />
<rect x="421.40" y="573.39" width="46.90" height="9.70" fill="#f7c498" />
<rect x="468.00" y="573.39" width="47.00" height="9.70" fill="#f5bb8f" />
<rect x="514.70" y="573.39" width="47.00" height="9.70" fill="#761c20" />
<text x="564.50" y="581.22" font-size="8.7" text-anchor="start" fill="#1a1a1a" style="color:#1a1a1a" font-weight="normal" >ALT</text>
<rect x="375.20" y="582.79" width="46.50" height="9.70" fill="#f5ad80" />
<rect x="421.40" y="582.79" width="46.90" height="9.70" fill="#f7c498" />
<rect x="468.00" y="582.79" width="47.00" height="9.70" fill="#f5bb8f" />
<rect x="514.70" y="582.79" width="47.00" height="9.70" fill="#761c20" />
<text x="564.50" y="590.62" font-size="8.7" text-anchor="start" fill="#1a1a1a" style="color:#1a1a1a" font-weight="normal" >AST</text>
<rect x="375.20" y="592.19" width="46.50" height="9.70" fill="#f7b88a" />
<rect x="421.40" y="592.19" width="46.90" height="9.70" fill="#f7c498" />
<rect x="468.00" y="592.19" width="47.00" height="9.70" fill="#f5bb8f" />
<rect x="514.70" y="592.19" width="47.00" height="9.70" fill="#761c20" />
<text x="564.50" y="600.03" font-size="8.7" text-anchor="start" fill="#1a1a1a" style="color:#1a1a1a" font-weight="normal" >Total bilirubin</text>
<rect x="375.20" y="601.60" width="46.50" height="9.70" fill="#f7bc8e" />
<rect x="421.40" y="601.60" width="46.90" height="9.70" fill="#f7c498" />
<rect x="468.00" y="601.60" width="47.00" height="9.70" fill="#f5bb8f" />
<rect x="514.70" y="601.60" width="47.00" height="9.70" fill="#761c20" />
<text x="564.50" y="609.43" font-size="8.7" text-anchor="start" fill="#1a1a1a" style="color:#1a1a1a" font-weight="normal" >Glucose</text>
<text x="398.30" y="334.30" font-size="9.4" text-anchor="middle" fill="#1a1a1a" style="color:#1a1a1a" font-weight="normal" >Cluster1</text>
<text x="444.70" y="334.30" font-size="9.4" text-anchor="middle" fill="#1a1a1a" style="color:#1a1a1a" font-weight="normal" >Cluster2</text>
<text x="491.35" y="334.30" font-size="9.4" text-anchor="middle" fill="#1a1a1a" style="color:#1a1a1a" font-weight="normal" >Cluster3</text>
<text x="538.05" y="334.30" font-size="9.4" text-anchor="middle" fill="#1a1a1a" style="color:#1a1a1a" font-weight="normal" >Cluster4</text>
<defs><linearGradient id="dleg" x1="0" y1="0" x2="0" y2="1"><stop offset="0.000" stop-color="#761c20"/><stop offset="0.125" stop-color="#a5242b"/><stop offset="0.250" stop-color="#cf3a32"/><stop offset="0.375" stop-color="#e7634f"/><stop offset="0.500" stop-color="#f3865f"/><stop offset="0.625" stop-color="#f6a878"/><stop offset="0.750" stop-color="#f5c898"/><stop offset="0.875" stop-color="#fce3cb"/><stop offset="1.000" stop-color="#fdf2e8"/></linearGradient></defs>
<rect x="628.00" y="346.70" width="8.60" height="62.00" fill="url(#dleg)" />
<text x="640.00" y="360.24" font-size="9.0" text-anchor="start" fill="#1a1a1a" style="color:#1a1a1a" font-weight="normal" >1</text>
<text x="640.00" y="381.64" font-size="9.0" text-anchor="start" fill="#1a1a1a" style="color:#1a1a1a" font-weight="normal" >0</text>
<text x="638.50" y="402.54" font-size="9.0" text-anchor="start" fill="#1a1a1a" style="color:#1a1a1a" font-weight="normal" >-1</text>
<path d="M370.80,352.41L370.80,361.81 M370.80,352.41L375.20,352.41 M370.80,361.81L375.20,361.81 M365.50,343.00L365.50,357.11 M365.50,343.00L375.20,343.00 M365.50,357.11L370.80,357.11 M366.50,371.21L366.50,380.62 M366.50,371.21L375.20,371.21 M366.50,380.62L375.20,380.62 M373.00,399.42L373.00,408.83 M373.00,399.42L375.20,399.42 M373.00,408.83L375.20,408.83 M365.50,390.02L365.50,404.12 M365.50,390.02L375.20,390.02 M365.50,404.12L373.00,404.12 M356.50,375.91L356.50,397.07 M356.50,375.91L366.50,375.91 M356.50,397.07L365.50,397.07 M352.20,350.05L352.20,386.49 M352.20,350.05L365.50,350.05 M352.20,386.49L356.50,386.49 M366.50,418.23L366.50,427.63 M366.50,418.23L375.20,418.23 M366.50,427.63L375.20,427.63 M370.80,446.44L370.80,455.84 M370.80,446.44L375.20,446.44 M370.80,455.84L375.20,455.84 M365.10,437.04L365.10,451.14 M365.10,437.04L375.20,437.04 M365.10,451.14L370.80,451.14 M355.50,422.93L355.50,444.09 M355.50,422.93L366.50,422.93 M355.50,444.09L365.10,444.09 M341.50,368.27L341.50,433.51 M341.50,368.27L352.20,368.27 M341.50,433.51L355.50,433.51 M370.20,474.65L370.20,484.05 M370.20,474.65L375.20,474.65 M370.20,484.05L375.20,484.05 M366.00,465.25L366.00,479.35 M366.00,465.25L375.20,465.25 M366.00,479.35L370.20,479.35 M372.30,493.46L372.30,502.86 M372.30,493.46L375.20,493.46 M372.30,502.86L375.20,502.86 M374.00,512.26L374.00,521.67 M374.00,512.26L375.20,512.26 M374.00,521.67L375.20,521.67 M372.60,531.07L372.60,540.47 M372.60,531.07L375.20,531.07 M372.60,540.47L375.20,540.47 M369.30,516.97L369.30,535.77 M369.30,516.97L374.00,516.97 M369.30,535.77L372.60,535.77 M366.40,498.16L366.40,526.37 M366.40,498.16L372.30,498.16 M366.40,526.37L369.30,526.37 M372.30,549.88L372.30,559.28 M372.30,549.88L375.20,549.88 M372.30,559.28L375.20,559.28 M374.20,596.89L374.20,606.30 M374.20,596.89L375.20,596.89 M374.20,606.30L375.20,606.30 M373.20,587.49L373.20,601.60 M373.20,587.49L375.20,587.49 M373.20,601.60L374.20,601.60 M372.60,578.09L372.60,594.54 M372.60,578.09L375.20,578.09 M372.60,594.54L373.20,594.54 M370.70,568.68L370.70,586.32 M370.70,568.68L375.20,568.68 M370.70,586.32L372.60,586.32 M366.40,554.58L366.40,577.50 M366.40,554.58L372.30,554.58 M366.40,577.50L370.70,577.50 M361.10,512.26L361.10,566.04 M361.10,512.26L366.40,512.26 M361.10,566.04L366.40,566.04 M353.40,472.30L353.40,539.15 M353.40,472.30L366.00,472.30 M353.40,539.15L361.10,539.15 M341.50,400.89L341.50,505.73 M341.50,400.89L341.50,400.89 M341.50,505.73L353.40,505.73" stroke="#1a1a1a" stroke-width="0.9" fill="none" stroke-linecap="square"/>
<rect x="60.40" y="876.48" width="42.60" height="73.22" fill="#3f5487" />
<rect x="60.40" y="757.51" width="42.60" height="118.98" fill="#2e9a86" />
<rect x="60.40" y="676.57" width="42.60" height="80.94" fill="#4bb1c8" />
<rect x="60.40" y="663.70" width="42.60" height="12.87" fill="#dd5344" />
<rect x="107.70" y="879.85" width="42.80" height="69.85" fill="#3f5487" />
<rect x="107.70" y="777.93" width="42.80" height="101.92" fill="#2e9a86" />
<rect x="107.70" y="676.30" width="42.80" height="101.63" fill="#4bb1c8" />
<rect x="107.70" y="663.70" width="42.80" height="12.60" fill="#dd5344" />
<rect x="155.00" y="885.99" width="43.00" height="63.71" fill="#3f5487" />
<rect x="155.00" y="780.56" width="43.00" height="105.43" fill="#2e9a86" />
<rect x="155.00" y="678.56" width="43.00" height="102.00" fill="#4bb1c8" />
<rect x="155.00" y="663.70" width="43.00" height="14.86" fill="#dd5344" />
<rect x="202.60" y="869.91" width="42.90" height="79.79" fill="#3f5487" />
<rect x="202.60" y="756.36" width="42.90" height="113.54" fill="#2e9a86" />
<rect x="202.60" y="670.56" width="42.90" height="85.80" fill="#4bb1c8" />
<rect x="202.60" y="663.70" width="42.90" height="6.86" fill="#dd5344" />
<line x1="48.20" y1="650.40" x2="48.20" y2="964.10" stroke="#333" stroke-width="1.1" />
<line x1="47.70" y1="963.50" x2="245.60" y2="963.50" stroke="#333" stroke-width="1.1" />
<line x1="45.20" y1="663.90" x2="48.20" y2="663.90" stroke="#333" stroke-width="0.9" />
<text x="44.70" y="667.00" font-size="8.6" text-anchor="end" fill="#4d4d4d" style="color:#4d4d4d" font-weight="normal" >1.00</text>
<line x1="45.20" y1="735.40" x2="48.20" y2="735.40" stroke="#333" stroke-width="0.9" />
<text x="44.70" y="738.50" font-size="8.6" text-anchor="end" fill="#4d4d4d" style="color:#4d4d4d" font-weight="normal" >0.75</text>
<line x1="45.20" y1="806.80" x2="48.20" y2="806.80" stroke="#333" stroke-width="0.9" />
<text x="44.70" y="809.90" font-size="8.6" text-anchor="end" fill="#4d4d4d" style="color:#4d4d4d" font-weight="normal" >0.50</text>
<line x1="45.20" y1="878.30" x2="48.20" y2="878.30" stroke="#333" stroke-width="0.9" />
<text x="44.70" y="881.40" font-size="8.6" text-anchor="end" fill="#4d4d4d" style="color:#4d4d4d" font-weight="normal" >0.25</text>
<line x1="45.20" y1="949.70" x2="48.20" y2="949.70" stroke="#333" stroke-width="0.9" />
<text x="44.70" y="952.80" font-size="8.6" text-anchor="end" fill="#4d4d4d" style="color:#4d4d4d" font-weight="normal" >0.00</text>
<line x1="81.70" y1="963.60" x2="81.70" y2="966.60" stroke="#333" stroke-width="0.9" />
<text x="81.70" y="977.17" font-size="8.8" text-anchor="middle" fill="#4d4d4d" style="color:#4d4d4d" font-weight="normal" >Cluster1</text>
<line x1="129.10" y1="963.60" x2="129.10" y2="966.60" stroke="#333" stroke-width="0.9" />
<text x="129.10" y="977.17" font-size="8.8" text-anchor="middle" fill="#4d4d4d" style="color:#4d4d4d" font-weight="normal" >Cluster2</text>
<line x1="176.50" y1="963.60" x2="176.50" y2="966.60" stroke="#333" stroke-width="0.9" />
<text x="176.50" y="977.17" font-size="8.8" text-anchor="middle" fill="#4d4d4d" style="color:#4d4d4d" font-weight="normal" >Cluster3</text>
<line x1="224.05" y1="963.60" x2="224.05" y2="966.60" stroke="#333" stroke-width="0.9" />
<text x="224.05" y="977.17" font-size="8.8" text-anchor="middle" fill="#4d4d4d" style="color:#4d4d4d" font-weight="normal" >Cluster4</text>
<text x="19.60" y="808.27" font-size="10.2" text-anchor="middle" fill="#000" style="color:#000" font-weight="normal" transform="rotate(-90 19.6 804.6)">Proportion</text>
<text x="144.00" y="658.38" font-size="9.4" text-anchor="middle" fill="#1a1a1a" style="color:#1a1a1a" font-weight="normal" >p &lt; 0.001</text>
<rect x="255.60" y="744.20" width="11.50" height="11.40" fill="#dd5344" />
<text x="269.50" y="753.14" font-size="9.0" text-anchor="start" fill="#1a1a1a" style="color:#1a1a1a" font-weight="normal" >Underweight</text>
<rect x="255.60" y="759.40" width="11.50" height="11.40" fill="#4bb1c8" />
<text x="269.50" y="768.34" font-size="9.0" text-anchor="start" fill="#1a1a1a" style="color:#1a1a1a" font-weight="normal" >Normal</text>
<rect x="255.60" y="774.60" width="11.50" height="11.40" fill="#2e9a86" />
<text x="269.50" y="783.54" font-size="9.0" text-anchor="start" fill="#1a1a1a" style="color:#1a1a1a" font-weight="normal" >Overweight</text>
<rect x="255.60" y="789.80" width="11.50" height="11.40" fill="#3f5487" />
<text x="269.50" y="798.74" font-size="9.0" text-anchor="start" fill="#1a1a1a" style="color:#1a1a1a" font-weight="normal" >Obesity</text>
<text x="81.70" y="673.30" font-size="8.6" text-anchor="middle" fill="#fff" style="color:#fff" font-weight="normal" >4.5%</text>
<text x="81.70" y="718.00" font-size="8.6" text-anchor="middle" fill="#fff" style="color:#fff" font-weight="normal" >28.3%</text>
<text x="81.70" y="817.00" font-size="8.6" text-anchor="middle" fill="#fff" style="color:#fff" font-weight="normal" >41.6%</text>
<text x="81.70" y="918.40" font-size="8.6" text-anchor="middle" fill="#fff" style="color:#fff" font-weight="normal" >25.6%</text>
<text x="129.10" y="673.10" font-size="8.6" text-anchor="middle" fill="#fff" style="color:#fff" font-weight="normal" >4.4%</text>
<text x="129.10" y="729.10" font-size="8.6" text-anchor="middle" fill="#fff" style="color:#fff" font-weight="normal" >35.5%</text>
<text x="129.10" y="831.10" font-size="8.6" text-anchor="middle" fill="#fff" style="color:#fff" font-weight="normal" >35.6%</text>
<text x="129.10" y="919.40" font-size="8.6" text-anchor="middle" fill="#fff" style="color:#fff" font-weight="normal" >24.4%</text>
<text x="176.50" y="674.50" font-size="8.6" text-anchor="middle" fill="#fff" style="color:#fff" font-weight="normal" >5.2%</text>
<text x="176.50" y="737.60" font-size="8.6" text-anchor="middle" fill="#fff" style="color:#fff" font-weight="normal" >35.7%</text>
<text x="176.50" y="835.70" font-size="8.6" text-anchor="middle" fill="#fff" style="color:#fff" font-weight="normal" >36.9%</text>
<text x="176.50" y="919.40" font-size="8.6" text-anchor="middle" fill="#fff" style="color:#fff" font-weight="normal" >22.3%</text>
<text x="224.00" y="669.80" font-size="8.6" text-anchor="middle" fill="#fff" style="color:#fff" font-weight="normal" >2.4%</text>
<text x="224.00" y="718.00" font-size="8.6" text-anchor="middle" fill="#fff" style="color:#fff" font-weight="normal" >30.0%</text>
<text x="224.00" y="818.40" font-size="8.6" text-anchor="middle" fill="#fff" style="color:#fff" font-weight="normal" >39.7%</text>
<text x="224.00" y="913.70" font-size="8.6" text-anchor="middle" fill="#fff" style="color:#fff" font-weight="normal" >27.9%</text>
<rect x="371.30" y="640.70" width="248.60" height="154.90" fill="#fff" />
<line x1="371.30" y1="770.60" x2="619.90" y2="770.60" stroke="#ececec" stroke-width="0.5" />
<line x1="371.30" y1="735.40" x2="619.90" y2="735.40" stroke="#ececec" stroke-width="0.5" />
<line x1="371.30" y1="700.20" x2="619.90" y2="700.20" stroke="#ececec" stroke-width="0.5" />
<line x1="371.30" y1="665.00" x2="619.90" y2="665.00" stroke="#ececec" stroke-width="0.5" />
<line x1="407.21" y1="640.70" x2="407.21" y2="795.60" stroke="#ececec" stroke-width="0.5" />
<line x1="458.24" y1="640.70" x2="458.24" y2="795.60" stroke="#ececec" stroke-width="0.5" />
<line x1="509.26" y1="640.70" x2="509.26" y2="795.60" stroke="#ececec" stroke-width="0.5" />
<line x1="560.29" y1="640.70" x2="560.29" y2="795.60" stroke="#ececec" stroke-width="0.5" />
<line x1="371.30" y1="788.20" x2="619.90" y2="788.20" stroke="#e0e0e0" stroke-width="0.9" />
<line x1="371.30" y1="753.00" x2="619.90" y2="753.00" stroke="#e0e0e0" stroke-width="0.9" />
<line x1="371.30" y1="717.80" x2="619.90" y2="717.80" stroke="#e0e0e0" stroke-width="0.9" />
<line x1="371.30" y1="682.60" x2="619.90" y2="682.60" stroke="#e0e0e0" stroke-width="0.9" />
<line x1="371.30" y1="647.40" x2="619.90" y2="647.40" stroke="#e0e0e0" stroke-width="0.9" />
<line x1="381.70" y1="640.70" x2="381.70" y2="795.60" stroke="#e0e0e0" stroke-width="0.9" />
<line x1="432.72" y1="640.70" x2="432.72" y2="795.60" stroke="#e0e0e0" stroke-width="0.9" />
<line x1="483.75" y1="640.70" x2="483.75" y2="795.60" stroke="#e0e0e0" stroke-width="0.9" />
<line x1="534.77" y1="640.70" x2="534.77" y2="795.60" stroke="#e0e0e0" stroke-width="0.9" />
<line x1="585.80" y1="640.70" x2="585.80" y2="795.60" stroke="#e0e0e0" stroke-width="0.9" />
<line x1="397.57" y1="640.70" x2="397.57" y2="795.60" stroke="#333" stroke-width="0.8" stroke-dasharray="2.2,2"/>
<line x1="483.75" y1="640.70" x2="483.75" y2="795.60" stroke="#333" stroke-width="0.8" stroke-dasharray="2.2,2"/>
<line x1="588.63" y1="640.70" x2="588.63" y2="795.60" stroke="#333" stroke-width="0.8" stroke-dasharray="2.2,2"/>
<rect x="497.00" y="642.30" width="38.60" height="10.50" fill="#c9c9c9" />
<rect x="536.60" y="642.30" width="44.50" height="10.50" fill="#c9c9c9" />
<rect x="497.00" y="653.80" width="38.60" height="10.20" fill="#e5e5e5" />
<rect x="536.60" y="653.80" width="44.50" height="10.20" fill="#e5e5e5" />
<rect x="497.00" y="665.00" width="38.60" height="10.20" fill="#e5e5e5" />
<rect x="536.60" y="665.00" width="44.50" height="10.20" fill="#e5e5e5" />
<rect x="497.00" y="676.20" width="38.60" height="10.20" fill="#e5e5e5" />
<rect x="536.60" y="676.20" width="44.50" height="10.20" fill="#e5e5e5" />
<text x="516.30" y="650.77" font-size="8.8" text-anchor="middle" fill="#1a1a1a" style="color:#1a1a1a" font-weight="bold" >Time</text>
<text x="558.80" y="650.77" font-size="8.8" text-anchor="middle" fill="#1a1a1a" style="color:#1a1a1a" font-weight="bold" >p value</text>
<text x="516.30" y="662.07" font-size="8.8" text-anchor="middle" fill="#1a1a1a" style="color:#1a1a1a" font-weight="normal" >28 days</text>
<text x="558.80" y="662.07" font-size="8.8" text-anchor="middle" fill="#1a1a1a" style="color:#1a1a1a" font-weight="normal" >p &lt; 0.001</text>
<text x="516.30" y="673.27" font-size="8.8" text-anchor="middle" fill="#1a1a1a" style="color:#1a1a1a" font-weight="normal" >6 months</text>
<text x="558.80" y="673.27" font-size="8.8" text-anchor="middle" fill="#1a1a1a" style="color:#1a1a1a" font-weight="normal" >p &lt; 0.001</text>
<text x="516.30" y="684.47" font-size="8.8" text-anchor="middle" fill="#1a1a1a" style="color:#1a1a1a" font-weight="normal" >1 year</text>
<text x="558.80" y="684.47" font-size="8.8" text-anchor="middle" fill="#1a1a1a" style="color:#1a1a1a" font-weight="normal" >p &lt; 0.001</text>
<path d="M382.60,647.60 L385.40,653.30 L389.20,658.00 L397.80,663.70 L407.30,668.50 L415.80,673.80 L432.90,679.80 L443.30,683.60 L458.50,686.50 L469.90,689.00 L484.10,691.60 L499.00,694.10 L518.00,696.50 L534.60,699.20 L560.60,701.70 L585.90,703.20 L590.00,703.60" stroke="#e04b3a" stroke-width="1.9" fill="none" stroke-linejoin="round" stroke-linecap="round"/>
<line x1="587.80" y1="703.60" x2="592.20" y2="703.60" stroke="#e04b3a" stroke-width="1.0" />
<line x1="589.50" y1="701.40" x2="589.50" y2="705.80" stroke="#e04b3a" stroke-width="1.0" />
<path d="M382.60,647.60 L383.50,660.00 L384.50,668.50 L387.30,683.60 L390.20,693.10 L397.80,702.90 L407.30,711.80 L418.60,718.60 L432.90,723.90 L458.50,731.10 L480.00,734.90 L509.40,738.70 L534.60,744.00 L560.60,746.80 L590.00,747.80" stroke="#4bb8d4" stroke-width="1.9" fill="none" stroke-linejoin="round" stroke-linecap="round"/>
<line x1="587.80" y1="747.80" x2="592.20" y2="747.80" stroke="#4bb8d4" stroke-width="1.0" />
<line x1="589.50" y1="745.60" x2="589.50" y2="750.00" stroke="#4bb8d4" stroke-width="1.0" />
<path d="M382.60,647.60 L383.50,660.00 L384.50,668.50 L387.30,683.60 L390.20,693.10 L397.80,702.60 L407.30,711.20 L418.60,717.80 L432.90,723.50 L458.50,729.20 L480.00,732.60 L509.40,736.40 L534.60,738.10 L560.60,741.10 L590.00,742.10" stroke="#2a9a86" stroke-width="1.9" fill="none" stroke-linejoin="round" stroke-linecap="round"/>
<line x1="587.80" y1="742.10" x2="592.20" y2="742.10" stroke="#2a9a86" stroke-width="1.0" />
<line x1="589.50" y1="739.90" x2="589.50" y2="744.30" stroke="#2a9a86" stroke-width="1.0" />
<path d="M382.60,647.60 L383.50,678.00 L385.40,704.50 L388.30,719.70 L392.10,731.10 L397.80,738.70 L404.40,744.40 L418.60,749.70 L432.90,753.50 L458.50,756.70 L480.00,758.60 L509.40,761.10 L534.60,762.40 L560.60,764.30 L590.00,764.90" stroke="#3c5488" stroke-width="1.9" fill="none" stroke-linejoin="round" stroke-linecap="round"/>
<line x1="587.80" y1="764.90" x2="592.20" y2="764.90" stroke="#3c5488" stroke-width="1.0" />
<line x1="589.50" y1="762.70" x2="589.50" y2="767.10" stroke="#3c5488" stroke-width="1.0" />
<text x="400.20" y="775.37" font-size="8.8" text-anchor="start" fill="#1a1a1a" style="color:#1a1a1a" font-weight="normal" >28 days</text>
<text x="487.00" y="775.17" font-size="8.8" text-anchor="start" fill="#1a1a1a" style="color:#1a1a1a" font-weight="normal" >6 months</text>
<text x="590.40" y="775.67" font-size="8.8" text-anchor="start" fill="#1a1a1a" style="color:#1a1a1a" font-weight="normal" >1 year</text>
<rect x="371.30" y="640.70" width="248.60" height="154.90" fill="none" stroke="#333" stroke-width="1.1"/>
<line x1="368.30" y1="788.20" x2="371.30" y2="788.20" stroke="#333" stroke-width="0.9" />
<text x="367.10" y="791.30" font-size="8.6" text-anchor="end" fill="#4d4d4d" style="color:#4d4d4d" font-weight="normal" >0.00</text>
<line x1="368.30" y1="753.00" x2="371.30" y2="753.00" stroke="#333" stroke-width="0.9" />
<text x="367.10" y="756.10" font-size="8.6" text-anchor="end" fill="#4d4d4d" style="color:#4d4d4d" font-weight="normal" >0.25</text>
<line x1="368.30" y1="717.80" x2="371.30" y2="717.80" stroke="#333" stroke-width="0.9" />
<text x="367.10" y="720.90" font-size="8.6" text-anchor="end" fill="#4d4d4d" style="color:#4d4d4d" font-weight="normal" >0.50</text>
<line x1="368.30" y1="682.60" x2="371.30" y2="682.60" stroke="#333" stroke-width="0.9" />
<text x="367.10" y="685.70" font-size="8.6" text-anchor="end" fill="#4d4d4d" style="color:#4d4d4d" font-weight="normal" >0.75</text>
<line x1="368.30" y1="647.40" x2="371.30" y2="647.40" stroke="#333" stroke-width="0.9" />
<text x="367.10" y="650.50" font-size="8.6" text-anchor="end" fill="#4d4d4d" style="color:#4d4d4d" font-weight="normal" >1.00</text>
<line x1="381.70" y1="795.60" x2="381.70" y2="798.60" stroke="#333" stroke-width="0.9" />
<text x="381.70" y="806.70" font-size="8.6" text-anchor="middle" fill="#4d4d4d" style="color:#4d4d4d" font-weight="normal" >0</text>
<line x1="432.72" y1="795.60" x2="432.72" y2="798.60" stroke="#333" stroke-width="0.9" />
<text x="432.72" y="806.70" font-size="8.6" text-anchor="middle" fill="#4d4d4d" style="color:#4d4d4d" font-weight="normal" >90</text>
<line x1="483.75" y1="795.60" x2="483.75" y2="798.60" stroke="#333" stroke-width="0.9" />
<text x="483.75" y="806.70" font-size="8.6" text-anchor="middle" fill="#4d4d4d" style="color:#4d4d4d" font-weight="normal" >180</text>
<line x1="534.77" y1="795.60" x2="534.77" y2="798.60" stroke="#333" stroke-width="0.9" />
<text x="534.77" y="806.70" font-size="8.6" text-anchor="middle" fill="#4d4d4d" style="color:#4d4d4d" font-weight="normal" >270</text>
<line x1="585.80" y1="795.60" x2="585.80" y2="798.60" stroke="#333" stroke-width="0.9" />
<text x="585.80" y="806.70" font-size="8.6" text-anchor="middle" fill="#4d4d4d" style="color:#4d4d4d" font-weight="normal" >360</text>
<text x="485.70" y="819.66" font-size="9.6" text-anchor="middle" fill="#1a1a1a" style="color:#1a1a1a" font-weight="normal" >Time in days</text>
<text x="342.40" y="714.16" font-size="9.9" text-anchor="middle" fill="#1a1a1a" style="color:#1a1a1a" font-weight="normal" transform="rotate(-90 342.4 710.6)">Survival probability</text>
<line x1="630.00" y1="646.60" x2="640.20" y2="646.60" stroke="#e04b3a" stroke-width="1.2" />
<line x1="635.10" y1="644.10" x2="635.10" y2="649.10" stroke="#e04b3a" stroke-width="1.0" />
<text x="644.80" y="649.82" font-size="8.95" text-anchor="start" fill="#1a1a1a" style="color:#1a1a1a" font-weight="normal" >Cluster1</text>
<line x1="630.00" y1="663.63" x2="640.20" y2="663.63" stroke="#4bb8d4" stroke-width="1.2" />
<line x1="635.10" y1="661.13" x2="635.10" y2="666.13" stroke="#4bb8d4" stroke-width="1.0" />
<text x="644.80" y="666.85" font-size="8.95" text-anchor="start" fill="#1a1a1a" style="color:#1a1a1a" font-weight="normal" >Cluster2</text>
<line x1="630.00" y1="680.66" x2="640.20" y2="680.66" stroke="#2a9a86" stroke-width="1.2" />
<line x1="635.10" y1="678.16" x2="635.10" y2="683.16" stroke="#2a9a86" stroke-width="1.0" />
<text x="644.80" y="683.88" font-size="8.95" text-anchor="start" fill="#1a1a1a" style="color:#1a1a1a" font-weight="normal" >Cluster3</text>
<line x1="630.00" y1="697.69" x2="640.20" y2="697.69" stroke="#3c5488" stroke-width="1.2" />
<line x1="635.10" y1="695.19" x2="635.10" y2="700.19" stroke="#3c5488" stroke-width="1.0" />
<text x="644.80" y="700.91" font-size="8.95" text-anchor="start" fill="#1a1a1a" style="color:#1a1a1a" font-weight="normal" >Cluster4</text>
<rect x="358.20" y="843.90" width="75.70" height="95.90" fill="#fff" />
<line x1="358.20" y1="918.35" x2="433.90" y2="918.35" stroke="#ededed" stroke-width="0.5" />
<line x1="358.20" y1="885.05" x2="433.90" y2="885.05" stroke="#ededed" stroke-width="0.5" />
<line x1="358.20" y1="851.75" x2="433.90" y2="851.75" stroke="#ededed" stroke-width="0.5" />
<line x1="358.20" y1="935.00" x2="433.90" y2="935.00" stroke="#e2e2e2" stroke-width="0.9" />
<line x1="358.20" y1="901.70" x2="433.90" y2="901.70" stroke="#e2e2e2" stroke-width="0.9" />
<line x1="358.20" y1="868.40" x2="433.90" y2="868.40" stroke="#e2e2e2" stroke-width="0.9" />
<line x1="369.10" y1="843.90" x2="369.10" y2="939.80" stroke="#e2e2e2" stroke-width="0.9" />
<line x1="386.80" y1="843.90" x2="386.80" y2="939.80" stroke="#e2e2e2" stroke-width="0.9" />
<line x1="404.60" y1="843.90" x2="404.60" y2="939.80" stroke="#e2e2e2" stroke-width="0.9" />
<line x1="422.50" y1="843.90" x2="422.50" y2="939.80" stroke="#e2e2e2" stroke-width="0.9" />
<line x1="369.15" y1="877.20" x2="369.15" y2="906.80" stroke="#333" stroke-width="0.9" />
<line x1="369.15" y1="926.60" x2="369.15" y2="933.60" stroke="#333" stroke-width="0.9" />
<rect x="362.60" y="906.80" width="13.10" height="19.80" fill="#dd5344" />
<line x1="362.60" y1="920.50" x2="375.70" y2="920.50" stroke="#333" stroke-width="1.3" />
<line x1="386.85" y1="856.50" x2="386.85" y2="897.20" stroke="#333" stroke-width="0.9" />
<line x1="386.85" y1="924.90" x2="386.85" y2="935.00" stroke="#333" stroke-width="0.9" />
<rect x="380.10" y="897.20" width="13.50" height="27.70" fill="#4bb1c8" />
<line x1="380.10" y1="916.50" x2="393.60" y2="916.50" stroke="#333" stroke-width="1.3" />
<line x1="404.60" y1="860.90" x2="404.60" y2="898.60" stroke="#333" stroke-width="0.9" />
<line x1="404.60" y1="923.60" x2="404.60" y2="933.30" stroke="#333" stroke-width="0.9" />
<rect x="397.60" y="898.60" width="14.00" height="25.00" fill="#2e9a86" />
<line x1="397.60" y1="916.30" x2="411.60" y2="916.30" stroke="#333" stroke-width="1.3" />
<line x1="422.55" y1="870.90" x2="422.55" y2="904.20" stroke="#333" stroke-width="0.9" />
<line x1="422.55" y1="926.30" x2="422.55" y2="933.60" stroke="#333" stroke-width="0.9" />
<rect x="416.00" y="904.20" width="13.10" height="22.10" fill="#3f5487" />
<line x1="416.00" y1="917.30" x2="429.10" y2="917.30" stroke="#333" stroke-width="1.3" />
<text x="398.80" y="854.54" font-size="9.0" text-anchor="middle" fill="#1a1a1a" style="color:#1a1a1a" font-weight="normal" >p &lt; 0.001</text>
<rect x="358.20" y="843.90" width="75.70" height="95.90" fill="none" stroke="#333" stroke-width="1.1"/>
<line x1="355.20" y1="935.00" x2="358.20" y2="935.00" stroke="#333" stroke-width="0.9" />
<text x="354.40" y="938.10" font-size="8.6" text-anchor="end" fill="#4d4d4d" style="color:#4d4d4d" font-weight="normal" >0</text>
<line x1="355.20" y1="901.70" x2="358.20" y2="901.70" stroke="#333" stroke-width="0.9" />
<text x="354.40" y="904.80" font-size="8.6" text-anchor="end" fill="#4d4d4d" style="color:#4d4d4d" font-weight="normal" >5</text>
<line x1="355.20" y1="868.40" x2="358.20" y2="868.40" stroke="#333" stroke-width="0.9" />
<text x="354.40" y="871.50" font-size="8.6" text-anchor="end" fill="#4d4d4d" style="color:#4d4d4d" font-weight="normal" >10</text>
<line x1="369.10" y1="939.80" x2="369.10" y2="942.80" stroke="#333" stroke-width="0.9" />
<text x="368.80" y="949.20" font-size="9.6" text-anchor="end" fill="#4d4d4d" style="color:#4d4d4d" font-weight="normal" transform="rotate(-45 368.80 942.60)">Cluster1</text>
<line x1="386.80" y1="939.80" x2="386.80" y2="942.80" stroke="#333" stroke-width="0.9" />
<text x="386.50" y="949.20" font-size="9.6" text-anchor="end" fill="#4d4d4d" style="color:#4d4d4d" font-weight="normal" transform="rotate(-45 386.50 942.60)">Cluster2</text>
<line x1="404.60" y1="939.80" x2="404.60" y2="942.80" stroke="#333" stroke-width="0.9" />
<text x="404.30" y="949.20" font-size="9.6" text-anchor="end" fill="#4d4d4d" style="color:#4d4d4d" font-weight="normal" transform="rotate(-45 404.30 942.60)">Cluster3</text>
<line x1="422.50" y1="939.80" x2="422.50" y2="942.80" stroke="#333" stroke-width="0.9" />
<text x="422.20" y="949.20" font-size="9.6" text-anchor="end" fill="#4d4d4d" style="color:#4d4d4d" font-weight="normal" transform="rotate(-45 422.20 942.60)">Cluster4</text>
<text x="341.90" y="900.15" font-size="9.3" text-anchor="middle" fill="#1a1a1a" style="color:#1a1a1a" font-weight="normal" transform="rotate(-90 341.9 896.8)">LOS(days)</text>
<rect x="475.60" y="844.30" width="74.80" height="95.50" fill="#fff" />
<line x1="475.60" y1="920.52" x2="550.40" y2="920.52" stroke="#ededed" stroke-width="0.5" />
<line x1="475.60" y1="891.55" x2="550.40" y2="891.55" stroke="#ededed" stroke-width="0.5" />
<line x1="475.60" y1="862.58" x2="550.40" y2="862.58" stroke="#ededed" stroke-width="0.5" />
<line x1="475.60" y1="935.00" x2="550.40" y2="935.00" stroke="#e2e2e2" stroke-width="0.9" />
<line x1="475.60" y1="906.03" x2="550.40" y2="906.03" stroke="#e2e2e2" stroke-width="0.9" />
<line x1="475.60" y1="877.07" x2="550.40" y2="877.07" stroke="#e2e2e2" stroke-width="0.9" />
<line x1="475.60" y1="848.10" x2="550.40" y2="848.10" stroke="#e2e2e2" stroke-width="0.9" />
<line x1="486.00" y1="844.30" x2="486.00" y2="939.80" stroke="#e2e2e2" stroke-width="0.9" />
<line x1="504.00" y1="844.30" x2="504.00" y2="939.80" stroke="#e2e2e2" stroke-width="0.9" />
<line x1="521.90" y1="844.30" x2="521.90" y2="939.80" stroke="#e2e2e2" stroke-width="0.9" />
<line x1="539.70" y1="844.30" x2="539.70" y2="939.80" stroke="#e2e2e2" stroke-width="0.9" />
<rect x="478.90" y="933.60" width="14.20" height="1.40" fill="#dd5344" />
<rect x="496.90" y="931.00" width="14.10" height="4.00" fill="#4bb1c8" />
<rect x="514.80" y="907.90" width="14.20" height="27.10" fill="#2e9a86" />
<rect x="532.50" y="854.40" width="14.40" height="80.60" fill="#3f5487" />
<text x="511.80" y="854.54" font-size="9.0" text-anchor="middle" fill="#1a1a1a" style="color:#1a1a1a" font-weight="normal" >p &lt; 0.001</text>
<rect x="475.60" y="844.30" width="74.80" height="95.50" fill="none" stroke="#333" stroke-width="1.1"/>
<line x1="472.60" y1="935.00" x2="475.60" y2="935.00" stroke="#333" stroke-width="0.9" />
<text x="471.80" y="938.10" font-size="8.6" text-anchor="end" fill="#4d4d4d" style="color:#4d4d4d" font-weight="normal" >0</text>
<line x1="472.60" y1="906.03" x2="475.60" y2="906.03" stroke="#333" stroke-width="0.9" />
<text x="471.80" y="909.13" font-size="8.6" text-anchor="end" fill="#4d4d4d" style="color:#4d4d4d" font-weight="normal" >5</text>
<line x1="472.60" y1="877.07" x2="475.60" y2="877.07" stroke="#333" stroke-width="0.9" />
<text x="471.80" y="880.16" font-size="8.6" text-anchor="end" fill="#4d4d4d" style="color:#4d4d4d" font-weight="normal" >10</text>
<line x1="472.60" y1="848.10" x2="475.60" y2="848.10" stroke="#333" stroke-width="0.9" />
<text x="471.80" y="851.20" font-size="8.6" text-anchor="end" fill="#4d4d4d" style="color:#4d4d4d" font-weight="normal" >15</text>
<line x1="486.00" y1="939.80" x2="486.00" y2="942.80" stroke="#333" stroke-width="0.9" />
<text x="485.70" y="949.20" font-size="9.6" text-anchor="end" fill="#4d4d4d" style="color:#4d4d4d" font-weight="normal" transform="rotate(-45 485.70 942.60)">Cluster1</text>
<line x1="504.00" y1="939.80" x2="504.00" y2="942.80" stroke="#333" stroke-width="0.9" />
<text x="503.70" y="949.20" font-size="9.6" text-anchor="end" fill="#4d4d4d" style="color:#4d4d4d" font-weight="normal" transform="rotate(-45 503.70 942.60)">Cluster2</text>
<line x1="521.90" y1="939.80" x2="521.90" y2="942.80" stroke="#333" stroke-width="0.9" />
<text x="521.60" y="949.20" font-size="9.6" text-anchor="end" fill="#4d4d4d" style="color:#4d4d4d" font-weight="normal" transform="rotate(-45 521.60 942.60)">Cluster3</text>
<line x1="539.70" y1="939.80" x2="539.70" y2="942.80" stroke="#333" stroke-width="0.9" />
<text x="539.40" y="949.20" font-size="9.6" text-anchor="end" fill="#4d4d4d" style="color:#4d4d4d" font-weight="normal" transform="rotate(-45 539.40 942.60)">Cluster4</text>
<text x="457.50" y="889.61" font-size="9.2" text-anchor="middle" fill="#1a1a1a" style="color:#1a1a1a" font-weight="normal" transform="rotate(-90 457.5 886.3)">CRRT(%)</text>
<rect x="593.30" y="844.30" width="75.30" height="95.50" fill="#fff" />
<line x1="593.30" y1="926.31" x2="668.60" y2="926.31" stroke="#ededed" stroke-width="0.5" />
<line x1="593.30" y1="908.93" x2="668.60" y2="908.93" stroke="#ededed" stroke-width="0.5" />
<line x1="593.30" y1="891.55" x2="668.60" y2="891.55" stroke="#ededed" stroke-width="0.5" />
<line x1="593.30" y1="874.17" x2="668.60" y2="874.17" stroke="#ededed" stroke-width="0.5" />
<line x1="593.30" y1="856.79" x2="668.60" y2="856.79" stroke="#ededed" stroke-width="0.5" />
<line x1="593.30" y1="935.00" x2="668.60" y2="935.00" stroke="#e2e2e2" stroke-width="0.9" />
<line x1="593.30" y1="917.62" x2="668.60" y2="917.62" stroke="#e2e2e2" stroke-width="0.9" />
<line x1="593.30" y1="900.24" x2="668.60" y2="900.24" stroke="#e2e2e2" stroke-width="0.9" />
<line x1="593.30" y1="882.86" x2="668.60" y2="882.86" stroke="#e2e2e2" stroke-width="0.9" />
<line x1="593.30" y1="865.48" x2="668.60" y2="865.48" stroke="#e2e2e2" stroke-width="0.9" />
<line x1="593.30" y1="848.10" x2="668.60" y2="848.10" stroke="#e2e2e2" stroke-width="0.9" />
<line x1="604.00" y1="844.30" x2="604.00" y2="939.80" stroke="#e2e2e2" stroke-width="0.9" />
<line x1="621.85" y1="844.30" x2="621.85" y2="939.80" stroke="#e2e2e2" stroke-width="0.9" />
<line x1="639.70" y1="844.30" x2="639.70" y2="939.80" stroke="#e2e2e2" stroke-width="0.9" />
<line x1="657.50" y1="844.30" x2="657.50" y2="939.80" stroke="#e2e2e2" stroke-width="0.9" />
<rect x="596.80" y="856.90" width="14.40" height="78.10" fill="#dd5344" />
<rect x="614.80" y="874.90" width="14.10" height="60.10" fill="#4bb1c8" />
<rect x="632.70" y="865.00" width="14.00" height="70.00" fill="#2e9a86" />
<rect x="650.20" y="864.10" width="14.60" height="70.90" fill="#3f5487" />
<text x="637.60" y="854.54" font-size="9.0" text-anchor="middle" fill="#1a1a1a" style="color:#1a1a1a" font-weight="normal" >p = 0.013</text>
<rect x="593.30" y="844.30" width="75.30" height="95.50" fill="none" stroke="#333" stroke-width="1.1"/>
<line x1="590.30" y1="935.00" x2="593.30" y2="935.00" stroke="#333" stroke-width="0.9" />
<text x="589.50" y="938.10" font-size="8.6" text-anchor="end" fill="#4d4d4d" style="color:#4d4d4d" font-weight="normal" >0</text>
<line x1="590.30" y1="917.62" x2="593.30" y2="917.62" stroke="#333" stroke-width="0.9" />
<text x="589.50" y="920.72" font-size="8.6" text-anchor="end" fill="#4d4d4d" style="color:#4d4d4d" font-weight="normal" >10</text>
<line x1="590.30" y1="900.24" x2="593.30" y2="900.24" stroke="#333" stroke-width="0.9" />
<text x="589.50" y="903.34" font-size="8.6" text-anchor="end" fill="#4d4d4d" style="color:#4d4d4d" font-weight="normal" >20</text>
<line x1="590.30" y1="882.86" x2="593.30" y2="882.86" stroke="#333" stroke-width="0.9" />
<text x="589.50" y="885.96" font-size="8.6" text-anchor="end" fill="#4d4d4d" style="color:#4d4d4d" font-weight="normal" >30</text>
<line x1="590.30" y1="865.48" x2="593.30" y2="865.48" stroke="#333" stroke-width="0.9" />
<text x="589.50" y="868.58" font-size="8.6" text-anchor="end" fill="#4d4d4d" style="color:#4d4d4d" font-weight="normal" >40</text>
<line x1="590.30" y1="848.10" x2="593.30" y2="848.10" stroke="#333" stroke-width="0.9" />
<text x="589.50" y="851.20" font-size="8.6" text-anchor="end" fill="#4d4d4d" style="color:#4d4d4d" font-weight="normal" >50</text>
<line x1="604.00" y1="939.80" x2="604.00" y2="942.80" stroke="#333" stroke-width="0.9" />
<text x="603.70" y="949.20" font-size="9.6" text-anchor="end" fill="#4d4d4d" style="color:#4d4d4d" font-weight="normal" transform="rotate(-45 603.70 942.60)">Cluster1</text>
<line x1="621.85" y1="939.80" x2="621.85" y2="942.80" stroke="#333" stroke-width="0.9" />
<text x="621.55" y="949.20" font-size="9.6" text-anchor="end" fill="#4d4d4d" style="color:#4d4d4d" font-weight="normal" transform="rotate(-45 621.55 942.60)">Cluster2</text>
<line x1="639.70" y1="939.80" x2="639.70" y2="942.80" stroke="#333" stroke-width="0.9" />
<text x="639.40" y="949.20" font-size="9.6" text-anchor="end" fill="#4d4d4d" style="color:#4d4d4d" font-weight="normal" transform="rotate(-45 639.40 942.60)">Cluster3</text>
<line x1="657.50" y1="939.80" x2="657.50" y2="942.80" stroke="#333" stroke-width="0.9" />
<text x="657.20" y="949.20" font-size="9.6" text-anchor="end" fill="#4d4d4d" style="color:#4d4d4d" font-weight="normal" transform="rotate(-45 657.20 942.60)">Cluster4</text>
<text x="573.70" y="896.47" font-size="8.8" text-anchor="middle" fill="#1a1a1a" style="color:#1a1a1a" font-weight="normal" transform="rotate(-90 573.7 893.3)">Invasive ventilation(%)</text>
</svg></body></html>
